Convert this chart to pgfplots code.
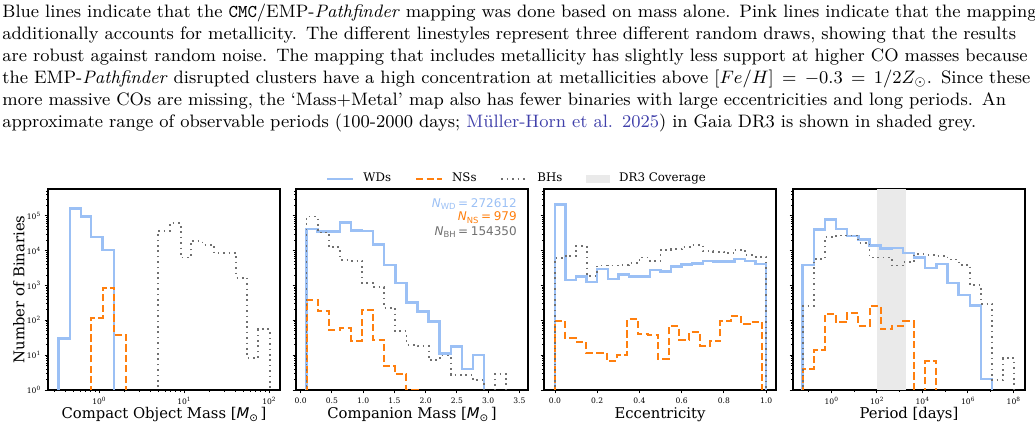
\documentclass[border=0pt]{standalone}
\usepackage{fontspec}
\usepackage{pgfplots}
\pgfplotsset{compat=1.18}
\newfontfamily\dvserif{DejaVu Serif}
\newfontfamily\dvsans{DejaVu Sans}
\definecolor{wdblue}{RGB}{155,192,245}
\definecolor{nsorange}{RGB}{255,127,14}
\definecolor{bhgray}{RGB}{112,112,112}
\definecolor{dr3gray}{RGB}{234,234,234}
\definecolor{citeblue}{RGB}{64,64,170}
\newcommand\labelfont{\dvserif\fontsize{7.4}{8.5}\selectfont}
\newcommand\tickfont{\dvserif\fontsize{3.8}{4.3}\selectfont}
\newcommand\legfont{\dvserif\fontsize{5.9}{7}\selectfont}
\newcommand\nfont{\dvsans\fontsize{6}{7}\selectfont}
\newcommand\pow[1]{10\raisebox{0.42em}{\fontsize{2.9}{3.3}\selectfont #1}}
\newcommand\Msun{{\dvsans\itshape M}\raisebox{-0.22em}{\dvsans\fontsize{5.2}{6}\selectfont ⊙}}
\newcommand\Nlab[2]{{\dvsans\itshape N}\raisebox{-0.2em}{\dvsans\fontsize{4.2}{5}\selectfont #1}\hspace{1.3pt}=\hspace{1.3pt}#2}
\pgfplotsset{
  wd/.style={color=wdblue, line width=1.2pt, mark=none, const plot},
  ns/.style={color=nsorange, line width=1.0pt, dash pattern=on 3.6pt off 1.6pt, mark=none, const plot},
  bh/.style={color=bhgray, line width=0.9pt, dash pattern=on 0.8pt off 1.9pt, mark=none, const plot},
  every axis/.append style={
    scale only axis, width=116pt, height=100.5pt,
    ymin=1, ymax=5.81e5,
    axis line style={line width=0.6pt},
    tick pos=left, tick align=outside,
    major tick length=1.7pt, minor tick length=1pt,
    tick style={black, line width=0.45pt},
    minor tick style={black, line width=0.35pt},
    tick label style={font=\tickfont},
    xticklabel style={anchor=north, inner sep=0pt, yshift=-1.8pt},
    yticklabel style={anchor=east, inner sep=0pt, xshift=-2pt},
    xlabel style={font=\labelfont, at={(axis description cs:0.5,-0.141)}, anchor=base},
  }
}
\begin{document}
\begin{tikzpicture}
\useasboundingbox (0,0) rectangle (517.5pt,214pt);
\node[anchor=north west, inner sep=0pt, text width=514pt, align=left, font=\fontsize{9}{11}\selectfont] at (1pt,212pt) {%
\makebox[514pt][s]{Blue lines indicate that the \texttt{CMC}/EMP-\textit{Pathfinder} mapping was done based on mass alone. Pink lines indicate that the mapping}\\
\makebox[514pt][s]{additionally accounts for metallicity. The different linestyles represent three different random draws, showing that the results}\\
\makebox[514pt][s]{are robust against random noise. The mapping that includes metallicity has slightly less support at higher CO masses because}\\
\makebox[514pt][s]{the EMP-\textit{Pathfinder} disrupted clusters have a high concentration at metallicities above $[Fe/H]=-0.3=1/2Z_\odot$. Since these}\\
\makebox[514pt][s]{more massive COs are missing, the `Mass+Metal' map also has fewer binaries with large eccentricities and long periods. An}\\
\makebox[514pt][l]{approximate range of observable periods (100-2000 days; {\color{citeblue}Müller-Horn et al. 2025}) in Gaia DR3 is shown in shaded grey.}};

% Panel 1
\begin{axis}[at={(24pt,19pt)}, anchor=south west,
  xmode=log, ymode=log,
  xmin=0.2512, xmax=134.9,
  ytick={1,10,100,1000,10000,100000},
  minor ytick={2,3,4,5,6,7,8,9,20,30,40,50,60,70,80,90,200,300,400,500,600,700,800,900,2000,3000,4000,5000,6000,7000,8000,9000,20000,30000,40000,50000,60000,70000,80000,90000,200000,300000,400000,500000},
  xtick={1,10,100}, xticklabels={\pow{0},\pow{1},\pow{2}},
  minor xtick={0.3,0.4,0.5,0.6,0.7,0.8,0.9,2,3,4,5,6,7,8,9,20,30,40,50,60,70,80,90},
  yticklabels={\pow{0},\pow{1},\pow{2},\pow{3},\pow{4},\pow{5}},
  xlabel={Compact Object Mass [\Msun\,]},
  ylabel={Number of Binaries},
  ylabel style={font=\labelfont, at={(axis description cs:-0.1013,0.5)}, anchor=base},
]
\addplot[wd] coordinates {(0.333,0.1)(0.333,30)(0.456,160000)(0.615,94000)(0.805,24000)(1.104,10500)(1.514,10500)(1.514,0.1)};
\addplot[ns] coordinates {(0.805,0.1)(0.805,118)(1.104,860)(1.514,38)(2.075,38)(2.075,0.1)};
\addplot[bh] coordinates {(4.97,0.1)(4.97,37000)(6.82,60000)(9.18,6300)(12.0,18700)(16.5,14500)(22.6,8300)(30.5,8300)(41.3,1660)(55.7,8.1)(74.3,55)(101.8,55)(101.8,0.1)};
\end{axis}

% Panel 2
\begin{axis}[at={(148pt,19pt)}, anchor=south west,
  ymode=log,
  ytick={1,10,100,1000,10000,100000},
  minor ytick={2,3,4,5,6,7,8,9,20,30,40,50,60,70,80,90,200,300,400,500,600,700,800,900,2000,3000,4000,5000,6000,7000,8000,9000,20000,30000,40000,50000,60000,70000,80000,90000,200000,300000,400000,500000},
  yticklabels={},
  xmin=-0.0742, xmax=3.638,
  xtick={0,0.5,1,1.5,2,2.5,3,3.5}, xticklabels={0.0,0.5,1.0,1.5,2.0,2.5,3.0,3.5},
  xlabel={Companion Mass [\Msun\,]},
  legend columns=4,
  legend image code/.code={\draw[#1] (0pt,0pt) -- (13pt,0pt);},
  legend style={at={(0.948,1.05)}, anchor=center, draw=none, fill=none, font=\legfont,
    nodes={inner xsep=0pt, inner ysep=0.5pt},
    /tikz/every odd column/.append style={column sep=4.5pt},
    /tikz/every even column/.append style={column sep=12pt}},
]
\addlegendimage{wd}\addlegendentry{WDs}
\addlegendimage{ns}\addlegendentry{NSs}
\addlegendimage{bh}\addlegendentry{BHs}
\addlegendimage{legend image code/.code={\fill[dr3gray] (0pt,-1.75pt) rectangle (11.5pt,1.75pt);}}\addlegendentry{DR3 Coverage}
\addplot[wd, forget plot] coordinates {(0.095,0.1)(0.095,42000)(0.2725,35000)(0.45,35000)(0.6275,64000)(0.805,37000)(0.9825,36000)(1.16,15000)(1.3375,3800)(1.515,1170)(1.6925,326)(1.87,180)(2.0475,93)(2.225,11)(2.4025,17.5)(2.58,4)(2.7575,10)(2.935,10)(2.935,0.1)};
\addplot[ns, forget plot] coordinates {(0.095,0.1)(0.095,390)(0.2725,180)(0.45,54)(0.6275,59)(0.805,26)(0.9825,200)(1.16,28)(1.3375,4.8)(1.515,2.8)(1.6925,1)(1.87,1)(1.87,0.1)};
\addplot[bh, forget plot] coordinates {(0.095,0.1)(0.095,94000)(0.2725,33000)(0.45,12300)(0.6275,5400)(0.805,5100)(0.9825,1150)(1.16,880)(1.3375,220)(1.515,48)(1.6925,20)(1.87,18.7)(2.0475,7.2)(2.225,9.7)(2.4025,2.7)(2.58,2.7)(2.7575,1.9)(2.935,0.1)(3.1125,2.9)(3.29,2.9)(3.29,0.1)};
\node[anchor=base east, inner sep=0pt, font=\nfont, text=wdblue] at (rel axis cs:0.953,0.910) {\Nlab{WD}{272612}};
\node[anchor=base east, inner sep=0pt, font=\nfont, text=nsorange] at (rel axis cs:0.953,0.841) {\Nlab{NS}{979}};
\node[anchor=base east, inner sep=0pt, font=\nfont, text=bhgray] at (rel axis cs:0.953,0.771) {\Nlab{BH}{154350}};
\end{axis}

% Panel 3
\begin{axis}[at={(272pt,19pt)}, anchor=south west,
  ymode=log,
  ytick={1,10,100,1000,10000,100000},
  minor ytick={2,3,4,5,6,7,8,9,20,30,40,50,60,70,80,90,200,300,400,500,600,700,800,900,2000,3000,4000,5000,6000,7000,8000,9000,20000,30000,40000,50000,60000,70000,80000,90000,200000,300000,400000,500000},
  yticklabels={},
  xmin=-0.052, xmax=1.047,
  xtick={0,0.2,0.4,0.6,0.8,1}, xticklabels={0.0,0.2,0.4,0.6,0.8,1.0},
  xlabel={Eccentricity},
]
\addplot[wd] coordinates {(0,0.1)(0,208000)(0.05,1430)(0.1,1820)(0.15,1230)(0.2,2900)(0.25,1520)(0.3,2040)(0.35,1820)(0.4,1800)(0.45,2760)(0.5,2520)(0.55,3450)(0.6,4000)(0.65,4200)(0.7,5100)(0.75,4900)(0.8,4900)(0.85,5600)(0.9,5100)(0.95,4100)(1,4100)(1,0.1)};
\addplot[ns] coordinates {(0,0.1)(0,95)(0.049,31)(0.098,24.5)(0.147,11.8)(0.196,11.8)(0.245,6.9)(0.294,10.3)(0.343,109)(0.392,40)(0.441,39)(0.49,7.7)(0.539,67)(0.588,28)(0.637,47)(0.686,18.7)(0.735,25)(0.784,93)(0.833,135)(0.882,78)(0.931,91)(0.98,91)(0.98,0.1)};
\addplot[bh] coordinates {(0,0.1)(0,6000)(0.05,7100)(0.1,13500)(0.15,1900)(0.2,3700)(0.25,3700)(0.3,3850)(0.35,4400)(0.4,6300)(0.45,5100)(0.5,10600)(0.55,11000)(0.6,12900)(0.65,14500)(0.7,9500)(0.75,9300)(0.8,8300)(0.85,10400)(0.9,7400)(0.95,6600)(1,6600)(1,0.1)};
\end{axis}

% Panel 4
\begin{axis}[at={(396.5pt,19pt)}, anchor=south west,
  xmode=log, ymode=log,
  ytick={1,10,100,1000,10000,100000},
  minor ytick={2,3,4,5,6,7,8,9,20,30,40,50,60,70,80,90,200,300,400,500,600,700,800,900,2000,3000,4000,5000,6000,7000,8000,9000,20000,30000,40000,50000,60000,70000,80000,90000,200000,300000,400000,500000},
  yticklabels={},
  xmin=0.0208, xmax=3.25e8,
  xtick={1,100,10000,1000000,100000000}, xticklabels={\pow{0},\pow{2},\pow{4},\pow{6},\pow{8}},
  minor xtick={0.1,10,1000,100000,10000000},
  xlabel={Period [days]},
]
\addplot[fill=dr3gray, draw=none, forget plot] coordinates {(100,1)(2000,1)(2000,581000)(100,581000)} -- cycle;
\addplot[wd] coordinates {(0.05521,0.1)(0.05521,3900)(0.1704,40000)(0.5263,77000)(1.625,42000)(5.017,26000)(15.49,20500)(47.82,13800)(147.7,11500)(455.9,12000)(1407.6,8500)(4345,6300)(13417,3100)(41421,4100)(127900,1150)(394800,530)(1219000,263)(3763000,2.07)(11620000,2.07)(11620000,0.1)};
\addplot[ns] coordinates {(0.05521,0.1)(0.05521,4)(0.1704,14)(0.5263,151)(1.625,87)(5.017,162)(15.49,70)(47.82,251)(147.7,56)(455.9,70)(1407.6,93)(4345,0.1)(13417,6.9)(41421,6.9)(41421,0.1)};
\addplot[bh] coordinates {(0.05521,0.1)(0.05521,263)(0.1704,5700)(0.5263,24000)(1.625,27000)(5.017,27000)(15.49,16500)(47.82,6300)(147.7,6300)(455.9,3700)(1407.6,4600)(4345,7800)(13417,7600)(41421,7100)(127900,5500)(394800,3900)(1219000,1030)(3763000,293)(11620000,1.9)(35870000,8.1)(110800000,8.1)(110800000,0.1)};
\end{axis}
\end{tikzpicture}
\end{document}
